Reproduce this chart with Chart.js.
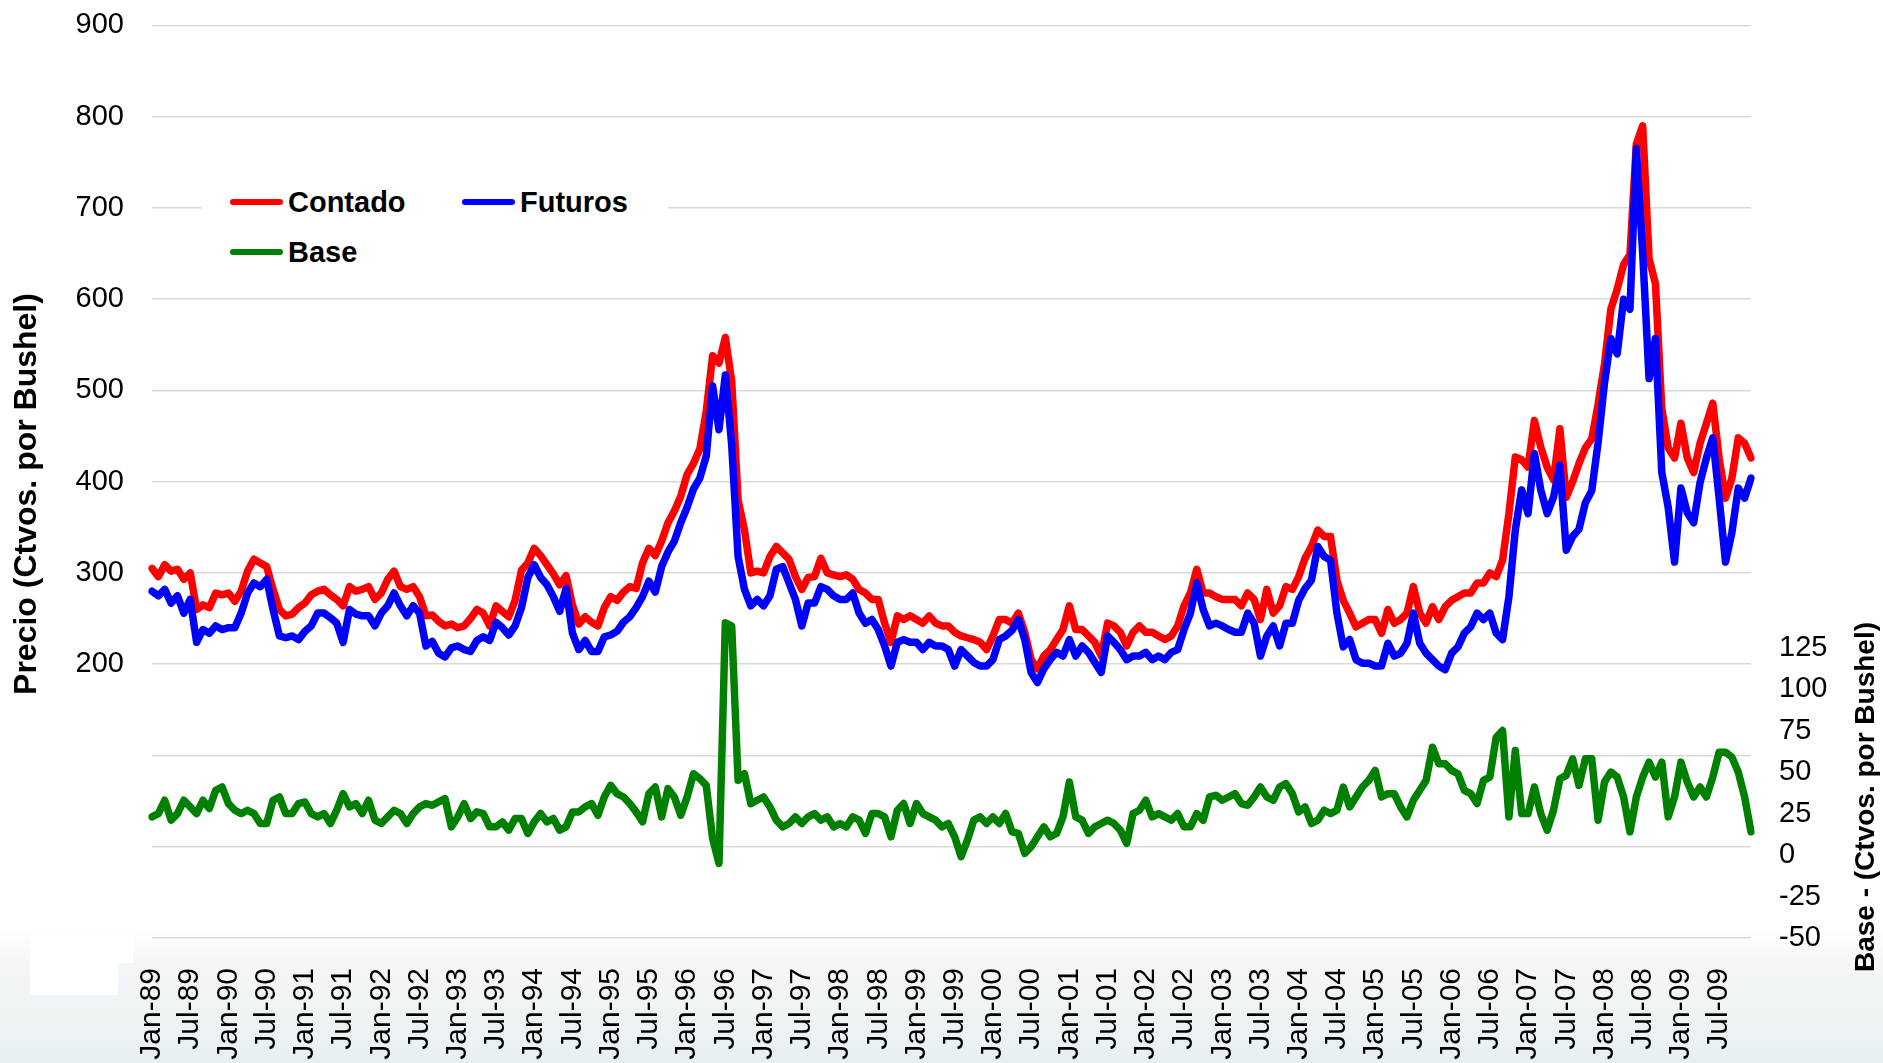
<!DOCTYPE html>
<html>
<head>
<meta charset="utf-8">
<script src="https://cdn.jsdelivr.net/npm/chart.js@4.4.1/dist/chart.umd.min.js"></script>
<style>
    html, body { margin: 0; padding: 0; width: 1883px; height: 1063px; overflow: hidden; }
    body {
        position: relative;
        font-family: "Liberation Sans", Arial, sans-serif;
        background: linear-gradient(to bottom, #ffffff 0px, #ffffff 930px, #f4f7f9 960px, #e8eff2 1063px);
    }
    .patch { position: absolute; background: #ffffff; }
    /* canvas starts 20px above the page so the plot top lands at 24px */
    #grafico { position: absolute; left: 0; top: -20px; }
    #leyenda { position: absolute; left: 202px; top: 180px; width: 466px; height: 98px; background: #ffffff; }
    .item { position: absolute; height: 34px; line-height: 34px; font-weight: bold; font-size: 29px; color: #000; }
    .item span { position: absolute; left: 0; top: 14px; width: 53px; height: 6px; border-radius: 3px; }
    .item b { position: absolute; left: 58px; top: 0; white-space: nowrap; }
</style>
</head>
<body>
<div class="patch" style="left:30px;top:935px;width:88px;height:60px"></div>
<div class="patch" style="left:30px;top:935px;width:103px;height:28px"></div>
<canvas id="grafico" width="1883" height="1083"></canvas>
<div id="leyenda"></div>
<script>
    // Data, one value per month (Jan-89 .. Dec-09)
    const meses = ['Jan', 'Feb', 'Mar', 'Apr', 'May', 'Jun', 'Jul', 'Aug', 'Sep', 'Oct', 'Nov', 'Dec'];
    const anios = ['89', '90', '91', '92', '93', '94', '95', '96', '97', '98', '99',
                   '00', '01', '02', '03', '04', '05', '06', '07', '08', '09'];

    const contado = [
        305, 296, 309, 302, 304, 293, 300, 260, 265, 262, 278, 276,
        278, 269, 280, 302, 315, 311, 307, 282, 260, 253, 255, 262,
        267, 276, 280, 282, 276, 271, 264, 285, 280, 282, 285, 271,
        278, 293, 302, 285, 282, 285, 274, 253, 254, 247, 242, 244,
        240, 242, 250, 260, 256, 242, 264, 258, 252, 270, 303, 311,
        327, 319, 309, 299, 287, 297, 265, 244, 252, 246, 242, 262,
        274, 270, 279, 285, 283, 311, 327, 319, 335, 355, 368, 384,
        408, 420, 436, 477, 538, 530, 558, 510, 380, 347, 300, 302,
        300, 318, 329, 322, 315, 296, 282, 295, 296, 316, 300, 298,
        296, 298, 293, 282, 278, 271, 271, 245, 224, 253, 249, 253,
        249, 245, 253, 245, 242, 242, 235, 231, 229, 227, 224, 216,
        231, 249, 249, 245, 256, 235, 205, 195, 209, 216, 227, 238,
        264, 238, 238, 231, 224, 209, 245, 242, 235, 220, 235, 242,
        235, 235, 231, 227, 231, 242, 264, 278, 304, 278, 278, 274,
        271, 271, 271, 264, 278, 271, 249, 282, 256, 264, 285, 282,
        296, 316, 329, 347, 340, 340, 292, 270, 256, 241, 245, 249,
        249, 234, 260, 245, 249, 256, 285, 256, 245, 263, 249, 263,
        270, 274, 278, 278, 289, 289, 300, 296, 314, 365, 427, 424,
        416, 467, 438, 416, 402, 458, 383, 400, 420, 437, 447, 485,
        529, 589, 611, 638, 649, 770, 790, 644, 617, 480, 437, 426,
        464, 426, 410, 442, 464, 486, 426, 382, 404, 448, 442, 426
    ];

    const futuros = [
        280, 275, 282, 267, 275, 256, 271, 224, 238, 234, 242, 238,
        240, 240, 256, 278, 289, 285, 293, 260, 231, 229, 231, 227,
        236, 242, 256, 256, 251, 245, 224, 260, 255, 253, 253, 242,
        256, 264, 278, 264, 253, 264, 256, 220, 225, 212, 208, 218,
        220, 216, 214, 226, 230, 226, 246, 240, 232, 242, 262, 295,
        309, 295, 287, 274, 258, 283, 234, 216, 226, 214, 214, 230,
        232, 236, 246, 252, 262, 274, 291, 279, 307, 323, 335, 355,
        372, 392, 404, 428, 505, 457, 517, 440, 318, 282, 264, 271,
        264, 275, 304, 307, 289, 271, 242, 267, 267, 285, 282, 275,
        271, 271, 278, 256, 245, 249, 238, 220, 198, 224, 227, 224,
        224, 216, 224, 220, 220, 216, 198, 216, 209, 202, 198, 198,
        205, 227, 231, 237, 249, 227, 191, 180, 195, 205, 213, 209,
        227, 209, 220, 213, 202, 191, 231, 224, 216, 205, 209, 209,
        213, 205, 209, 205, 213, 216, 238, 256, 289, 260, 242, 245,
        242, 238, 235, 235, 256, 245, 209, 231, 242, 220, 245, 245,
        270, 283, 292, 329, 318, 314, 256, 219, 227, 205, 201, 201,
        198, 198, 223, 209, 212, 223, 256, 223, 212, 205, 198, 194,
        212, 219, 234, 241, 256, 249, 256, 234, 227, 274, 347, 391,
        365, 431, 391, 365, 383, 418, 325, 340, 348, 377, 390, 443,
        508, 557, 540, 600, 589, 765, 650, 513, 557, 410, 372, 312,
        393, 366, 355, 399, 426, 448, 382, 312, 344, 393, 382, 404
    ];

    const base = [
        23, 25, 33, 21, 25, 33, 29, 25, 33, 28, 39, 41,
        31, 27, 25, 27, 25, 19, 19, 33, 35, 25, 25, 31,
        32, 25, 23, 25, 19, 27, 37, 29, 31, 25, 33, 21,
        19, 23, 27, 25, 19, 25, 29, 31, 30, 32, 34, 17,
        23, 31, 22, 26, 25, 17, 17, 20, 15, 22, 22, 13,
        20, 25, 20, 22, 15, 17, 26, 26, 29, 31, 24, 35,
        42, 37, 35, 31, 26, 20, 37, 41, 23, 40, 35, 24,
        35, 49, 46, 42, 10, -5, 140, 138, 45, 49, 31, 33,
        35, 29, 21, 17, 19, 23, 19, 23, 25, 21, 23, 17,
        19, 17, 23, 21, 13, 25, 25, 23, 11, 27, 31, 19,
        31, 25, 23, 21, 17, 19, 11, -1, 9, 21, 23, 19,
        23, 19, 25, 14, 13, 1, 5, 11, 17, 11, 13, 23,
        44, 23, 21, 13, 17, 19, 21, 19, 15, 7, 25, 27,
        33, 23, 25, 23, 21, 25, 17, 17, 25, 21, 35, 36,
        33, 35, 37, 31, 30, 35, 41, 35, 33, 41, 43, 37,
        26, 29, 19, 21, 27, 25, 27, 41, 29, 35, 41, 45,
        51, 35, 37, 37, 29, 23, 33, 39, 45, 65, 55, 55,
        51, 49, 39, 37, 31, 45, 47, 71, 75, 23, 63, 25,
        25, 41, 25, 15, 27, 46, 48, 58, 42, 58, 58, 21,
        44, 50, 47, 35, 14, 35, 47, 56, 47, 56, 23, 35,
        56, 44, 35, 41, 35, 47, 62, 62, 59, 50, 35, 14
    ];

    const series = [
        { nombre: 'Contado', color: '#ff0000' },
        { nombre: 'Futuros', color: '#0000ff' },
        { nombre: 'Base', color: '#008000' }
    ];

    const tituloIzq = 'Precio (Ctvos. por Bushel)';
    const tituloDer = 'Base - (Ctvos. por Bushel)';

    const etiquetas = [];
    anios.forEach(a => meses.forEach(m => etiquetas.push(m + '-' + a)));

    const fuente = '"Liberation Sans", Arial, sans-serif';
    Chart.defaults.font.family = fuente;
    Chart.defaults.color = '#000';

    // Legend (drawn as HTML over the plot, like the original)
    const leyenda = document.getElementById('leyenda');
    const posLeyenda = [[28, 5], [260, 5], [28, 55]];
    series.forEach((s, i) => {
        const item = document.createElement('div');
        item.className = 'item';
        item.style.left = posLeyenda[i][0] + 'px';
        item.style.top = posLeyenda[i][1] + 'px';
        item.innerHTML = '<span style="background:' + s.color + '"></span><b>' + s.nombre + '</b>';
        leyenda.appendChild(item);
    });

    // Axis titles (canvas coords, canvas is shifted up by 20px)
    const titulos = {
        id: 'titulos',
        afterDraw(chart) {
            const ctx = chart.ctx;
            ctx.save();
            ctx.fillStyle = '#000';
            ctx.textAlign = 'center';
            ctx.textBaseline = 'middle';
            ctx.font = 'bold 32px ' + fuente;
            ctx.translate(27, 514);
            ctx.rotate(-Math.PI / 2);
            ctx.fillText(tituloIzq, 0, 0);
            ctx.restore();

            ctx.save();
            ctx.fillStyle = '#000';
            ctx.textAlign = 'center';
            ctx.textBaseline = 'middle';
            ctx.font = 'bold 28px ' + fuente;
            ctx.translate(1866, 817);
            ctx.rotate(-Math.PI / 2);
            ctx.fillText(tituloDer, 0, 0);
            ctx.restore();
        }
    };

    const linea = (datos, s, eje, orden) => ({
        label: s.nombre,
        data: datos,
        yAxisID: eje,
        borderColor: s.color,
        backgroundColor: s.color,
        borderWidth: 7.5,
        borderJoinStyle: 'round',
        borderCapStyle: 'round',
        pointRadius: 0,
        tension: 0,
        fill: false,
        order: orden
    });

    new Chart(document.getElementById('grafico').getContext('2d'), {
        type: 'line',
        data: {
            labels: etiquetas,
            datasets: [
                linea(contado, series[0], 'y', 3),
                linea(futuros, series[1], 'y', 2),
                linea(base, series[2], 'y2', 1)
            ]
        },
        options: {
            responsive: false,
            animation: false,
            devicePixelRatio: 1,
            layout: { padding: { top: 4, left: 0, right: 0, bottom: 0 } },
            plugins: {
                legend: { display: false },
                tooltip: { enabled: false }
            },
            scales: {
                x: {
                    type: 'category',
                    grid: { display: false, drawTicks: false },
                    border: { display: false },
                    ticks: {
                        autoSkip: false,
                        minRotation: 90,
                        maxRotation: 90,
                        padding: 30,
                        font: { size: 30 },
                        callback: function (v, i) {
                            return i % 6 === 0 ? this.getLabelForValue(v) : '';
                        }
                    },
                    afterFit: s => { s.height = 125; }
                },
                y: {
                    position: 'left',
                    min: -100,
                    max: 900,
                    grid: { color: '#d9d9d9', lineWidth: 1.5, drawTicks: false },
                    border: { display: false },
                    ticks: {
                        stepSize: 100,
                        autoSkip: false,
                        padding: 28,
                        font: { size: 29 },
                        callback: v => v >= 200 ? String(v) : ''
                    },
                    afterFit: s => { s.width = 152; }
                },
                y2: {
                    position: 'right',
                    min: -50,
                    max: 500,
                    grid: { display: false, drawTicks: false },
                    border: { display: false },
                    ticks: {
                        stepSize: 25,
                        autoSkip: false,
                        padding: 28,
                        font: { size: 29 },
                        callback: v => v <= 125 ? String(v) : ''
                    },
                    afterFit: s => { s.width = 132; }
                }
            }
        },
        plugins: [titulos]
    });
</script>
</body>
</html>
